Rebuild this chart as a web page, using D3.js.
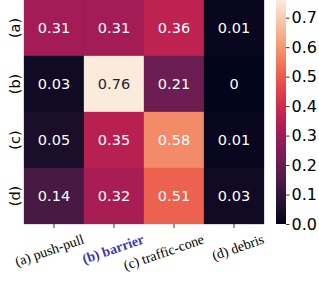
<!DOCTYPE html>
<html>
<head>
<meta charset="utf-8">
<script src="https://cdn.jsdelivr.net/npm/d3@7"></script>
<style>
  body { margin: 0; background: #fff; }
  svg { display: block; }
</style>
</head>
<body>
<svg id="chart" width="319" height="284"></svg>
<script>
// rows (true class) and columns (predicted)
var rowLabels = ["(a)", "(b)", "(c)", "(d)"];
var colLabels = ["(a) push-pull", "(b) barrier", "(c) traffic-cone", "(d) debris"];
var highlightCol = "(b) barrier";

var values = [
    [0.31, 0.31, 0.36, 0.01],
    [0.03, 0.76, 0.21, 0],
    [0.05, 0.35, 0.58, 0.01],
    [0.14, 0.32, 0.51, 0.03]
];
var valueText = [
    ["0.31", "0.31", "0.36", "0.01"],
    ["0.03", "0.76", "0.21", "0"],
    ["0.05", "0.35", "0.58", "0.01"],
    ["0.14", "0.32", "0.51", "0.03"]
];
var colorbarTicks = [0.0, 0.1, 0.2, 0.3, 0.4, 0.5, 0.6, 0.7];

// seaborn "rocket" approximated by a few stops
var rocketStops = ["#03051a", "#35193e", "#701f57", "#ad1759", "#e13342", "#f37651", "#f6b48f", "#faebdd"];
var rocket = d3.interpolateRgbBasis(rocketStops);

var svg = d3.select("#chart");

var vmax = d3.max(values, function(r) { return d3.max(r); });
var color = d3.scaleSequential(rocket).domain([0, vmax]);

var x = d3.scaleBand().domain(colLabels).range([24, 264]);
var y = d3.scaleBand().domain(rowLabels).range([0, 224]);

// cells
var rows = svg.append("g").selectAll("g")
    .data(values)
    .enter().append("g");

rows.each(function(row, i)
{
    var g = d3.select(this);
    row.forEach(function(v, j)
    {
        g.append("rect")
            .attr("x", x(colLabels[j]))
            .attr("y", y(rowLabels[i]))
            .attr("width", x.bandwidth())
            .attr("height", y.bandwidth())
            .attr("fill", color(v))
            .attr("stroke", color(v))
            .attr("stroke-width", 0.3);
        g.append("text")
            .attr("x", x(colLabels[j]) + x.bandwidth() / 2)
            .attr("y", y(rowLabels[i]) + y.bandwidth() / 2)
            .attr("dy", "0.36em")
            .attr("text-anchor", "middle")
            .style("font-family", "DejaVu Sans")
            .style("font-size", "14.5px")
            // only the very light cell gets dark text
            .attr("fill", v / vmax > 0.85 ? "#262626" : "#ffffff")
            .text(valueText[i][j]);
    });
});

// y labels (rotated, no ticks)
svg.append("g").selectAll("text")
    .data(rowLabels)
    .enter().append("text")
    .attr("transform", function(d) {
        return "translate(20," + (y(d) + y.bandwidth() / 2) + ") rotate(-90)";
    })
    .attr("text-anchor", "middle")
    .style("font-family", "DejaVu Sans")
    .style("font-size", "14.5px")
    .attr("fill", "#000")
    .text(function(d) { return d; });

// x ticks
svg.append("g").selectAll("line")
    .data(colLabels)
    .enter().append("line")
    .attr("x1", function(d) { return x(d) + x.bandwidth() / 2; })
    .attr("x2", function(d) { return x(d) + x.bandwidth() / 2; })
    .attr("y1", 224)
    .attr("y2", 228)
    .attr("stroke", "#000")
    .attr("stroke-width", 0.8);

// x labels, rotated, serif
svg.append("g").selectAll("text")
    .data(colLabels)
    .enter().append("text")
    .attr("transform", function(d) {
        return "translate(" + (x(d) + x.bandwidth() / 2 + 31) + ",243) rotate(-19)";
    })
    .attr("text-anchor", "end")
    .style("font-family", "Liberation Serif")
    .style("font-size", "14px")
    .style("font-weight", function(d) { return d == highlightCol ? "bold" : "normal"; })
    .attr("fill", function(d) { return d == highlightCol ? "#3a3ab8" : "#000"; })
    .text(function(d) { return d; });

// colorbar
var cb = d3.scaleLinear().domain([0, vmax]).range([224, 0]);
var defs = svg.append("defs");
var grad = defs.append("linearGradient")
    .attr("id", "cbgrad")
    .attr("x1", 0).attr("y1", 1).attr("x2", 0).attr("y2", 0);
d3.range(0, 1.0001, 0.05).forEach(function(t)
{
    grad.append("stop")
        .attr("offset", t)
        .attr("stop-color", rocket(t));
});
svg.append("rect")
    .attr("x", 276)
    .attr("y", 0)
    .attr("width", 10)
    .attr("height", 224)
    .attr("fill", "url(#cbgrad)");

var cbAxis = d3.axisRight(cb)
    .tickValues(colorbarTicks)
    .tickFormat(d3.format(".1f"))
    .tickSize(3.5)
    .tickPadding(2);
var cbg = svg.append("g")
    .attr("transform", "translate(286,0)")
    .call(cbAxis);
cbg.select(".domain").remove();
cbg.selectAll("text")
    .style("font-family", "DejaVu Sans")
    .style("font-size", "16px")
    .attr("fill", "#000");
cbg.selectAll("line").attr("stroke", "#000").attr("stroke-width", 0.8);
</script>
</body>
</html>
